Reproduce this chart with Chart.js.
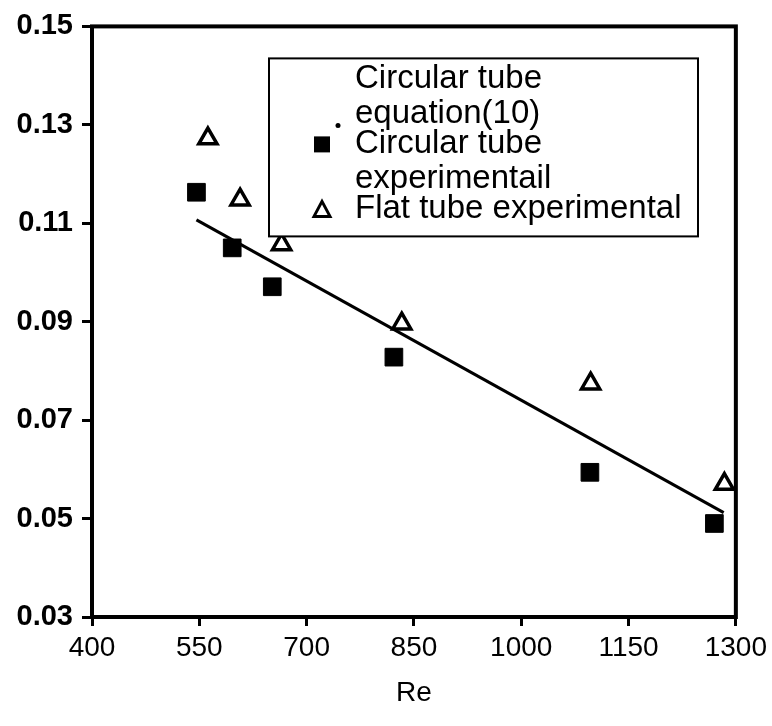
<!DOCTYPE html>
<html>
<head>
<meta charset="utf-8">
<script src="https://cdn.jsdelivr.net/npm/chart.js@4"></script>
<style>
  html, body { margin: 0; padding: 0; background: #fff; }
  canvas { display: block; }
</style>
</head>
<body>
<canvas id="reChart" width="772" height="726"></canvas>
<script>
// values
const circularRe = [546, 596, 652, 822, 1096, 1270];
const circularF = [0.1163, 0.105, 0.0971, 0.0828, 0.0594, 0.049];
const flatRe = [562, 607, 665, 833, 1097, 1284];
const flatF = [0.1272, 0.1148, 0.1057, 0.0896, 0.0774, 0.057];
const equationRe = [546, 1283];
const equationF = [0.1107, 0.0512];

const xTicks = [400, 550, 700, 850, 1000, 1150, 1300];
const yTicks = [0.03, 0.05, 0.07, 0.09, 0.11, 0.13, 0.15];

const legendLines = [
  ["Circular tube", "equation(10)"],
  ["Circular tube", "experimentail"],
  ["Flat tube experimental"]
];

function toPoints(xs, ys) {
  return xs.map((x, i) => ({ x: x, y: ys[i] }));
}

// frame round the plot + the boxed legend inside it
const framePlugin = {
  id: "frame",
  afterDatasetsDraw(chart) {
    const { ctx, chartArea: a } = chart;
    ctx.save();
    ctx.strokeStyle = "#000";
    ctx.lineWidth = 4;
    ctx.strokeRect(a.left, a.top, a.right - a.left, a.bottom - a.top);

    // legend box
    const bx = a.left + 177, by = a.top + 32, bw = 429, bh = 178;
    ctx.fillStyle = "#fff";
    ctx.fillRect(bx, by, bw, bh);
    ctx.lineWidth = 2;
    ctx.strokeRect(bx, by, bw, bh);

    ctx.font = "33px 'Liberation Sans', Arial, sans-serif";
    ctx.textBaseline = "middle";
    ctx.fillStyle = "#000";
    const entryY = [by + 21, by + 86, by + 151];
    legendLines.forEach((lines, i) => {
      lines.forEach((t, j) => ctx.fillText(t, bx + 86, entryY[i] + j * 35));
    });

    // markers
    ctx.beginPath();
    ctx.arc(bx + 69, entryY[0] + 46, 2.5, 0, Math.PI * 2);
    ctx.fill();
    ctx.fillRect(bx + 45, entryY[1] - 8, 16, 16);
    ctx.beginPath();
    ctx.moveTo(bx + 53, entryY[2] - 8);
    ctx.lineTo(bx + 61, entryY[2] + 7);
    ctx.lineTo(bx + 45, entryY[2] + 7);
    ctx.closePath();
    ctx.lineWidth = 3;
    ctx.stroke();
    ctx.restore();
  }
};

new Chart(document.getElementById("reChart"), {
  type: "scatter",
  data: {
    datasets: [
      {
        label: "Circular tube equation(10)",
        data: toPoints(equationRe, equationF),
        showLine: true,
        borderColor: "#000",
        borderWidth: 3,
        pointRadius: 0
      },
      {
        label: "Circular tube experimentail",
        data: toPoints(circularRe, circularF),
        pointStyle: "rect",
        pointRadius: 12.5,
        backgroundColor: "#000",
        borderColor: "#000",
        borderWidth: 1
      },
      {
        label: "Flat tube experimental",
        data: toPoints(flatRe, flatF),
        pointStyle: "triangle",
        pointRadius: 10.5,
        backgroundColor: "#fff",
        borderColor: "#000",
        borderWidth: 3.5
      }
    ]
  },
  options: {
    responsive: false,
    animation: false,
    devicePixelRatio: 1,
    layout: { padding: { top: 22, right: 35, left: 0, bottom: 0 } },
    plugins: {
      legend: { display: false },
      tooltip: { enabled: false }
    },
    scales: {
      x: {
        type: "linear",
        min: 400,
        max: 1300,
        afterBuildTicks: s => { s.ticks = xTicks.map(v => ({ value: v })); },
        afterFit: s => { s.height = 109; },
        border: { display: false },
        grid: { drawOnChartArea: false, drawTicks: true, tickLength: 9, tickWidth: 3, tickColor: "#000" },
        ticks: {
          color: "#000",
          padding: 5,
          maxRotation: 0,
          callback: v => String(v),
          font: { family: "'Liberation Sans', Arial, sans-serif", size: 28 }
        },
        title: {
          display: true,
          text: "Re",
          color: "#000",
          padding: { top: 4, bottom: 16 },
          font: { family: "'Liberation Sans', Arial, sans-serif", size: 28 }
        }
      },
      y: {
        type: "linear",
        min: 0.03,
        max: 0.15,
        afterBuildTicks: s => { s.ticks = yTicks.map(v => ({ value: v })); },
        afterFit: s => { s.width = 92; },
        border: { display: false },
        grid: { drawOnChartArea: false, drawTicks: true, tickLength: 10, tickWidth: 3, tickColor: "#000" },
        ticks: {
          color: "#000",
          padding: 9,
          callback: v => v.toFixed(2),
          font: { family: "'Liberation Sans', Arial, sans-serif", size: 29, weight: "bold" }
        }
      }
    }
  },
  plugins: [framePlugin]
});
</script>
</body>
</html>
